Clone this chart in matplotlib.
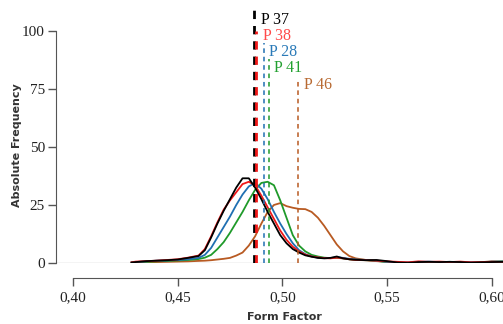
import numpy as np
import matplotlib
matplotlib.use("Agg")
import matplotlib.pyplot as plt

# form factor grid
form_factor = [0.428, 0.43, 0.435, 0.44, 0.445, 0.45, 0.455, 0.46, 0.463, 0.466,
               0.469, 0.472, 0.475, 0.478, 0.481, 0.484, 0.487, 0.490, 0.493, 0.496,
               0.499, 0.502, 0.505, 0.508, 0.511, 0.514, 0.517, 0.520, 0.523, 0.526,
               0.529, 0.532, 0.535, 0.54, 0.545, 0.55, 0.555, 0.56, 0.565, 0.57,
               0.575, 0.58, 0.585, 0.59, 0.595, 0.60, 0.605]

freq_p37 = [0.2, 0.4, 0.8, 1.0, 1.2, 1.5, 2.2, 3.0, 5.5, 11, 17, 22.5, 27.5, 32.5, 36.5, 36.5,
            32.5, 27.5, 22, 17, 12, 8.5, 6, 4.5, 3.3, 2.7, 2.2, 2.0, 2.2, 2.8, 2.0, 1.6,
            1.4, 1.2, 1.3, 0.8, 0.2, 0.0, 0.4, 0.5, 0.4, 0.5, 0.4, 0.1, 0.3, 0.4, 0.5]
freq_p38 = [0.3, 0.6, 0.8, 1.0, 1.3, 1.6, 2.3, 3.2, 6, 11.5, 17.5, 23, 27, 30.5, 34, 35,
            33.5, 29, 24, 19, 14, 10, 7, 5, 3.6, 2.8, 2.4, 2.1, 2.0, 2.3, 2.0, 1.6,
            1.3, 1.2, 1.0, 0.7, 0.5, 0.3, 0.7, 0.5, 0.6, 0.4, 0.6, 0.3, 0.4, 0.6, 0.5]
freq_p28 = [0.2, 0.4, 0.7, 1.0, 1.1, 1.3, 1.6, 2.2, 3.5, 6.5, 11, 15.5, 20, 25, 29.5, 33,
            34.5, 32, 27.5, 22, 17, 12.5, 8.5, 5.5, 3.8, 2.8, 2.3, 2.1, 2.1, 2.5, 2.2, 1.8,
            1.5, 1.3, 1.0, 0.5, 0.3, 0.3, 0.5, 0.6, 0.4, 0.5, 0.2, 0.4, 0.2, 0.6, 0.6]
freq_p41 = [0.1, 0.3, 0.5, 0.7, 0.9, 1.1, 1.3, 1.7, 2.3, 3.5, 6, 9, 13, 17.5, 22, 27,
            31.5, 34.5, 35, 33.5, 27, 19.5, 12, 7.5, 5, 3.5, 2.8, 2.3, 2.1, 2.2, 2.0, 1.6,
            1.3, 1.2, 0.9, 0.4, 0.2, 0.2, 0.3, 0.4, 0.3, 0.4, 0.3, 0.2, 0.4, 0.6, 0.7]
freq_p46 = [0.1, 0.2, 0.3, 0.4, 0.5, 0.6, 0.7, 0.9, 1.0, 1.2, 1.5, 1.8, 2.2, 3.2, 4.5, 7.5,
            11.5, 17, 22, 25, 25.8, 24.5, 23.8, 23.3, 23.2, 22, 19.5, 16, 12, 8, 5, 3,
            2, 1.3, 0.8, 0.5, 0.2, 0.1, 0.2, 0.3, 0.2, 0.3, 0.2, 0.3, 0.2, 0.4, 0.4]

samples = ["P 37", "P 38", "P 28", "P 41", "P 46"]
means = [0.4864, 0.4872, 0.4912, 0.4936, 0.5075]
line_tops = [109, 100, 95, 88, 79]
label_x = [0.4898, 0.4906, 0.4936, 0.4960, 0.5103]
label_y = [104.5, 98, 91, 84, 76.5]

colors = ["#000000", "#f01818", "#1f6fb2", "#1f9a2a", "#b85a22"]
label_colors = ["#000000", "#ff4a4a", "#2a7ab8", "#22a030", "#b86a32"]
series = [freq_p37, freq_p38, freq_p28, freq_p41, freq_p46]
vline_w = [2.0, 2.0, 1.1, 1.1, 1.1]

fig = plt.figure(figsize=(5.03, 3.24), dpi=100)
ax = fig.add_axes([0.1113, 0.1883, 0.8887, 0.7807])

ax.axhline(0, color="#c8c8c8", lw=1.0, zorder=1)

# black drawn last so it sits on top
for i in [4, 3, 2, 1, 0]:
    ax.plot(form_factor, series[i], color=colors[i], lw=1.3, zorder=3,
            solid_joinstyle="round")

for i in range(len(samples)):
    ax.plot([means[i], means[i]], [0, line_tops[i]], color=colors[i], lw=vline_w[i],
            linestyle=(0, (3, 2.5)), zorder=4)
    ax.text(label_x[i], label_y[i], samples[i], color=label_colors[i],
            family="Liberation Serif", fontsize=11.5, ha="left", va="center")

ax.set_xlim(0.3919, 0.6054)
ax.set_ylim(0, 109)

ax.spines["top"].set_visible(False)
ax.spines["right"].set_visible(False)
ax.spines["left"].set_bounds(0, 100)
ax.spines["left"].set_color("#555555")
ax.spines["bottom"].set_position(("outward", 11))
ax.spines["bottom"].set_bounds(0.40, 0.60)
ax.spines["bottom"].set_color("#555555")

ax.set_yticks([0, 25, 50, 75, 100])
ax.set_xticks([0.40, 0.45, 0.50, 0.55, 0.60])
ax.set_xticklabels(["0,40", "0,45", "0,50", "0,55", "0,60"])
ax.tick_params(axis="both", color="#555555", length=6, width=1,
               labelsize=11, labelcolor="#222222")
ax.tick_params(axis="y", pad=2)
for lbl in ax.get_xticklabels() + ax.get_yticklabels():
    lbl.set_family("Liberation Serif")

ax.set_xlabel("Form Factor", fontsize=8, fontweight="bold", color="#333333")
ax.xaxis.set_label_coords(0.5105, -0.195)
ax.set_ylabel("Absolute Frequency", fontsize=8, fontweight="bold", color="#333333")
ax.yaxis.set_label_coords(-0.077, 0.466)

fig.savefig("out.png", dpi=100)
